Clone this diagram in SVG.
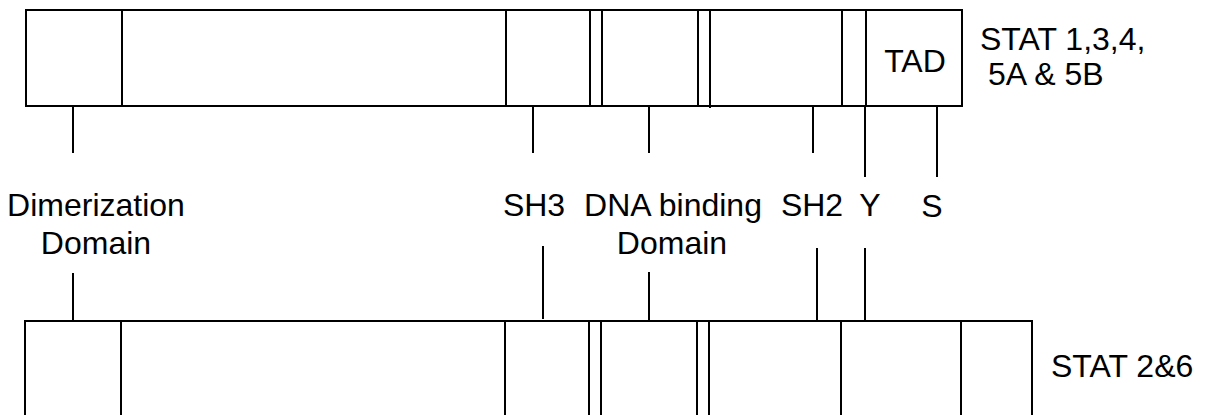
<svg xmlns="http://www.w3.org/2000/svg" width="1218" height="415" viewBox="0 0 1218 415">
<style>
.box{fill:#fff;stroke:#000;stroke-width:2}
.div{stroke:#000;stroke-width:2}
.con{stroke:#000;stroke-width:2}
.t{font-family:"Liberation Sans",Arial,sans-serif;font-size:32px;fill:#000}
.m{text-anchor:middle}
</style>
<rect width="1218" height="415" fill="#fff"/>
<g id="stat-1345">
<rect class="box" x="26" y="10" width="936" height="96"/>
<line class="div" x1="122" y1="10" x2="122" y2="106"/>
<line class="div" x1="506" y1="10" x2="506" y2="106"/>
<line class="div" x1="590" y1="10" x2="590" y2="106"/>
<line class="div" x1="602" y1="10" x2="602" y2="106"/>
<line class="div" x1="698" y1="10" x2="698" y2="106"/>
<line class="div" x1="710" y1="10" x2="710" y2="108"/>
<line class="div" x1="842" y1="10" x2="842" y2="106"/>
<line class="div" x1="866" y1="10" x2="866" y2="106"/>
<text class="t m" x="915" y="72">TAD</text>
<text class="t" x="980" y="50">STAT 1,3,4,</text>
<text class="t" x="988" y="85">5A &amp; 5B</text>
</g>
<g id="stat-26">
<rect class="box" x="25" y="321" width="1007" height="110"/>
<line class="div" x1="121" y1="321" x2="121" y2="420"/>
<line class="div" x1="505" y1="321" x2="505" y2="420"/>
<line class="div" x1="589" y1="321" x2="589" y2="420"/>
<line class="div" x1="601" y1="321" x2="601" y2="420"/>
<line class="div" x1="697" y1="321" x2="697" y2="420"/>
<line class="div" x1="709" y1="321" x2="709" y2="420"/>
<line class="div" x1="841" y1="321" x2="841" y2="420"/>
<line class="div" x1="961" y1="321" x2="961" y2="420"/>
<text class="t" x="1051" y="377">STAT 2&amp;6</text>
</g>
<g id="labels">
<text class="t m" x="96" y="216">Dimerization</text>
<text class="t m" x="96" y="254">Domain</text>
<text class="t m" x="534" y="216">SH3</text>
<text class="t m" x="673" y="216">DNA binding</text>
<text class="t m" x="672" y="254">Domain</text>
<text class="t m" x="812" y="216">SH2</text>
<text class="t m" x="870" y="216">Y</text>
<text class="t m" x="932" y="217">S</text>
</g>
<g id="connectors">
<line class="con" x1="73" y1="106" x2="73" y2="153"/>
<line class="con" x1="73" y1="273" x2="73" y2="321"/>
<line class="con" x1="533" y1="106" x2="533" y2="153"/>
<line class="con" x1="543" y1="246" x2="543" y2="319"/>
<line class="con" x1="649" y1="106" x2="649" y2="153"/>
<line class="con" x1="649" y1="272" x2="649" y2="321"/>
<line class="con" x1="813" y1="106" x2="813" y2="153"/>
<line class="con" x1="817" y1="248" x2="817" y2="321"/>
<line class="con" x1="865" y1="106" x2="865" y2="177"/>
<line class="con" x1="865" y1="248" x2="865" y2="321"/>
<line class="con" x1="937" y1="106" x2="937" y2="177"/>
</g>
</svg>
